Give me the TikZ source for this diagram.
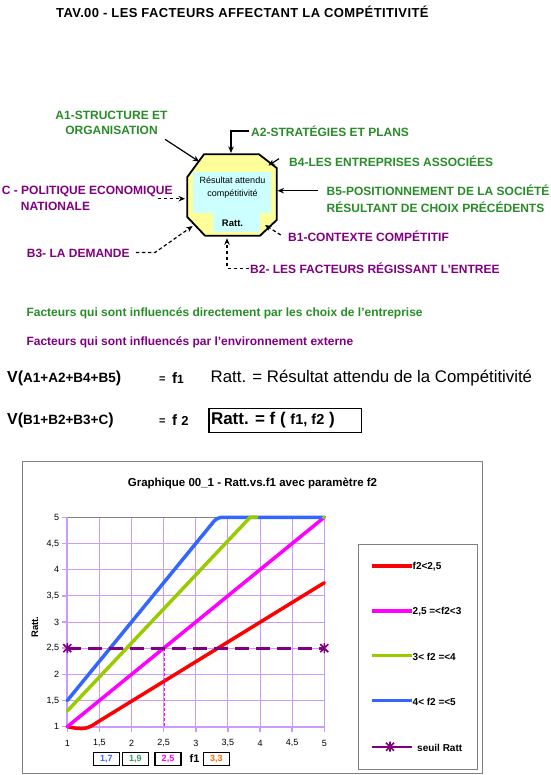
\documentclass[tikz,border=0pt]{standalone}
\usepackage{fontspec}
\setmainfont{Liberation Sans}
\usetikzlibrary{arrows.meta}
\definecolor{tgreen}{RGB}{40,140,40}
\definecolor{tpurple}{RGB}{128,0,128}
\definecolor{oyellow}{RGB}{255,255,153}
\definecolor{ocyan}{RGB}{204,255,255}
\definecolor{gridc}{RGB}{204,153,255}
\definecolor{cred}{RGB}{255,0,0}
\definecolor{cmag}{RGB}{255,0,255}
\definecolor{cgreen}{RGB}{153,204,0}
\definecolor{cblue}{RGB}{51,102,255}
\definecolor{cseuil}{RGB}{128,0,128}
\definecolor{corange}{RGB}{255,102,0}
\definecolor{cgreentxt}{RGB}{51,153,102}
\definecolor{frameg}{RGB}{128,128,128}
\begin{document}
\begin{tikzpicture}[x=1pt,y=-1pt,
  every node/.style={inner sep=0pt},
  lab/.style={font=\fontsize{12}{15}\selectfont\bfseries, anchor=west, align=left},
  arr/.style={line width=1.2pt, -{Stealth[length=6.5pt,width=5.5pt]}},
  darr/.style={arr, dash pattern=on 3.5pt off 2.5pt},
  gridl/.style={draw=gridc, line width=1pt},
  ticklab/.style={font=\fontsize{9}{10}\selectfont},
  curve/.style={line width=3.5pt, line cap=round, line join=round},
  valbox/.style={draw=black, line width=1.3pt, minimum width=26pt, minimum height=13pt, font=\fontsize{9}{10}\selectfont\bfseries},
  legl/.style={line width=3.5pt},
  legt/.style={font=\fontsize{10}{12}\selectfont\bfseries, anchor=west}]
\useasboundingbox (0,0) rectangle (550,775);

% title
\node[font=\fontsize{13}{15}\selectfont\bfseries\addfontfeatures{LetterSpace=3}, anchor=west] (title) at (56,12) {TAV.00 - LES FACTEURS AFFECTANT LA COMPÉTITIVITÉ};

% octagon
\fill[oyellow] (204,154.3) -- (259,154.3) -- (276.7,168) -- (276.7,220) -- (260,235.7) -- (205,235.7) -- (187.3,217) -- (187.3,177) -- cycle;
\fill[ocyan] (193.3,171.7) rectangle (270.7,213.5);
\fill[ocyan] (213.3,213) rectangle (260,232.3);
\draw[line width=1.8pt, line join=miter] (204,154.3) -- (259,154.3) -- (276.7,168) -- (276.7,220) -- (260,235.7) -- (205,235.7) -- (187.3,217) -- (187.3,177) -- cycle;
\node[font=\fontsize{9}{11}\selectfont] (res) at (232.5,180) {Résultat attendu};
\node[font=\fontsize{9}{11}\selectfont] (comp) at (232.5,194.3) {compétitivité};
\node[font=\fontsize{9.5}{11}\selectfont\bfseries] (ratt) at (232.5,223.7) {Ratt.};

% arrow end points on the octagon
\coordinate (pA1) at (199.3,161.7);
\coordinate (pA2) at (231,153);
\coordinate (pB4) at (268.4,165.5);
\coordinate (pB5) at (277.5,190.7);
\coordinate (pB1) at (265,225);
\coordinate (pB2) at (227,238.3);
\coordinate (pB3) at (192.7,226);
\coordinate (pC) at (185,198.7);

% labels
\node[lab, align=center, anchor=center, text=tgreen] (a1) at (111.5,123.2) {A1-STRUCTURE ET\\ORGANISATION};
\node[lab, text=tgreen] (a2) at (251,131) {A2-STRATÉGIES ET PLANS};
\node[lab, text=tgreen] (b4) at (289,161) {B4-LES ENTREPRISES ASSOCIÉES};
\node[lab, text=tgreen, font=\fontsize{12}{16.6}\selectfont\bfseries] (b5) at (326.5,199) {B5-POSITIONNEMENT DE LA SOCIÉTÉ\\RÉSULTANT DE CHOIX PRÉCÉDENTS};
\node[lab, text=tpurple] (b1) at (288,236.7) {B1-CONTEXTE COMPÉTITIF};
\node[lab, text=tpurple] (b2) at (250,268.3) {B2- LES FACTEURS RÉGISSANT L'ENTREE};
\node[lab, text=tpurple] (b3) at (26.7,253.3) {B3- LA DEMANDE};
\node[lab, text=tpurple, font=\fontsize{12}{15.3}\selectfont\bfseries] (c) at (1.7,198.4) {C - POLITIQUE ECONOMIQUE\\\hspace*{19pt}NATIONALE};

% arrows
\coordinate (sA1) at (165,139.3);
\draw[arr] (sA1) -- (pA1);
\draw[arr] ([xshift=-2pt]a2.west) -| (pA2);
\coordinate (sB4) at (279,158.7);
\draw[arr] (sB4) -- (pB4);
\draw[arr] ([xshift=-9pt]b5.west |- pB5) -- (pB5);
\coordinate (sB1) at (280.7,235);
\draw[darr] (sB1) -- (pB1);
\draw[darr] ([xshift=-1pt]b2.west) -| (pB2);
\coordinate (kB3) at (155,252.5);
\draw[darr] ([xshift=6pt]b3.east |- kB3) -- (kB3) -- (pB3);
\coordinate (sC) at (157.7,198.7);
\draw[darr] (sC) -- (pC);

% legend lines of text
\node[lab, text=tgreen] (fg) at (26.3,313.3) {Facteurs qui sont influencés directement par les choix de l'entreprise};
\node[lab, text=tpurple] (fp) at (26.3,342.7) {Facteurs qui sont influencés par l'environnement externe};

% formulas
\node[anchor=west, font=\bfseries] (v1) at (7,378.3) {{\fontsize{16}{18}\selectfont V(}{\fontsize{13.5}{15}\selectfont A1+A2+B4+B5}{\fontsize{16}{18}\selectfont )}};
\node[anchor=west, font=\bfseries] (e1) at (159,379.5) {{\fontsize{11}{13}\selectfont =}};
\node[anchor=west, font=\bfseries] (f1) at (172,378.3) {{\fontsize{15}{18}\selectfont f}{\fontsize{12}{14}\selectfont 1}};
\node[anchor=west, font=\fontsize{16.8}{19}\selectfont] (def) at (210.5,378.3) {Ratt. = Résultat attendu de la Compétitivité};
\node[anchor=west, font=\bfseries] (v2) at (7,420) {{\fontsize{16}{18}\selectfont V(}{\fontsize{13.5}{15}\selectfont B1+B2+B3+C}{\fontsize{16}{18}\selectfont )}};
\node[anchor=west, font=\bfseries] (e2) at (159,421.5) {{\fontsize{11}{13}\selectfont =}};
\node[anchor=west, font=\bfseries] (f2) at (172,420) {{\fontsize{15}{18}\selectfont f }{\fontsize{13}{15}\selectfont 2}};
\draw[line width=1.5pt] (208.8,408.3) rectangle (361.4,432.3);
\node[anchor=west, font=\bfseries] (rf) at (210.8,420) {{\fontsize{17}{20}\selectfont Ratt. = f ( }{\fontsize{14.5}{16}\selectfont f1, f2}{\fontsize{17}{20}\selectfont\ )}};

% chart frame
\draw[frameg, line width=1pt] (22.3,461.7) rectangle (482.7,773.3);
\node[font=\fontsize{11.5}{13}\selectfont\bfseries] (ctitle) at (252.5,483) {Graphique 00\_1 - Ratt.vs.f1 avec paramètre f2};

\begin{scope}[shift={(3.05,779.05)}, x=64.25pt, y=52.35pt]
  \foreach \f in {1.5,2,2.5,3,3.5,4,4.5,5} \draw[gridl] (\f,1) -- (\f,5);
  \foreach \r in {1.5,2,2.5,3,3.5,4,4.5} \draw[gridl] (1,\r) -- (5,\r);
  \draw[frameg, line width=1.2pt] (1,5) -- (5,5);
  \draw[gridc, line width=2.2pt] (1,1) -- (1,5);
  \draw[gridc, line width=2.2pt] (1,1) -- (5,1);
  \foreach \r in {1,1.5,2,2.5,3,3.5,4,4.5,5} \draw[gridc, line width=1.5pt] (1,\r) -- ++(-5pt,0);
  \foreach \f in {1,1.5,2,2.5,3,3.5,4,4.5,5} \draw[gridc, line width=1.5pt] (\f,1) -- ++(0,-5pt);
  \foreach \r/\t in {1/1,1.5/{1,5},2/2,2.5/{2,5},3/3,3.5/{3,5},4/4,4.5/{4,5},5/5}
    \node[ticklab, anchor=east] at ([xshift=-8pt]1,\r) {\t};
  \foreach \f/\t in {1/1,1.5/{1,5},2/2,2.5/{2,5},3/3,3.5/{3,5},4/4,4.5/{4,5},5/5}
    \node[ticklab] at ([yshift=-16.6pt]\f,1) {\t};
  % curves
  \draw[curve, cred] (1,1) to[out=-10,in=180] (1.22,0.965) to[out=0,in=212] (1.5,1.11) -- (5,3.75);
  \draw[curve, cmag] (1,1) -- (5,5);
  \draw[curve, cblue, rounded corners=5pt] (1,1.5) -- (3.333,5) -- (5,5);
  \draw[curve, cgreen] (1,1.3) -- (3.846,5) -- (3.95,5);
  \draw[curve, cgreen] (4.985,5) -- (5,5);
  \draw[cmag, line width=1pt, dash pattern=on 3pt off 2pt] (2.52,2.5) -- (2.52,1);
  \draw[cseuil, line width=3pt, dash pattern=on 14pt off 7pt] (1,2.5) -- (5,2.5);
  \coordinate (s1) at (1,2.5);
  \coordinate (s2) at (5,2.5);
  \foreach \s in {s1,s2}
    \draw[cseuil, line width=1.6pt, shift={(\s)}] (-4pt,-4pt) -- (4pt,4pt) (-4pt,4pt) -- (4pt,-4pt) (0,-5pt) -- (0,5pt);
\end{scope}

\node[font=\fontsize{9.5}{11}\selectfont\bfseries, rotate=90] (yl) at (35,627) {Ratt.};
\node[valbox, text=cblue] (b17) at (106.3,759.2) {1,7};
\node[valbox, text=cgreentxt] (b19) at (135.3,759.2) {1,9};
\node[valbox, text=cmag] (b25) at (168,759.2) {2,5};
\node[font=\fontsize{11}{13}\selectfont\bfseries] (xl) at (194.5,758.5) {f1};
\node[valbox, text=corange] (b33) at (216.3,759.2) {3,3};

% legend
\draw[frameg, line width=1pt] (358.3,544.3) rectangle (477.7,769.3);
\draw[legl, cred] (371.7,566) -- (411.7,566);
\node[legt] (l1) at (412.5,567) {f2<2,5};
\draw[legl, cmag] (371.7,611) -- (411.7,611);
\node[legt] (l2) at (412.5,612) {2,5 =<f2<3};
\draw[legl, cgreen] (371.7,655.7) -- (411.7,655.7);
\node[legt] (l3) at (412.5,656.7) {3< f2 =<4};
\draw[legl, cblue] (371.7,700.7) -- (411.7,700.7);
\node[legt] (l4) at (412.5,701.7) {4< f2 =<5};
\draw[cseuil, line width=2.2pt] (371.7,746.7) -- (411.7,746.7);
\draw[cseuil, line width=1.6pt, shift={(390,746.7)}] (-4,-4) -- (4,4) (-4,4) -- (4,-4) (0,-5) -- (0,5);
\node[legt] (l5) at (417,747.7) {seuil Ratt};
\end{tikzpicture}
\end{document}
